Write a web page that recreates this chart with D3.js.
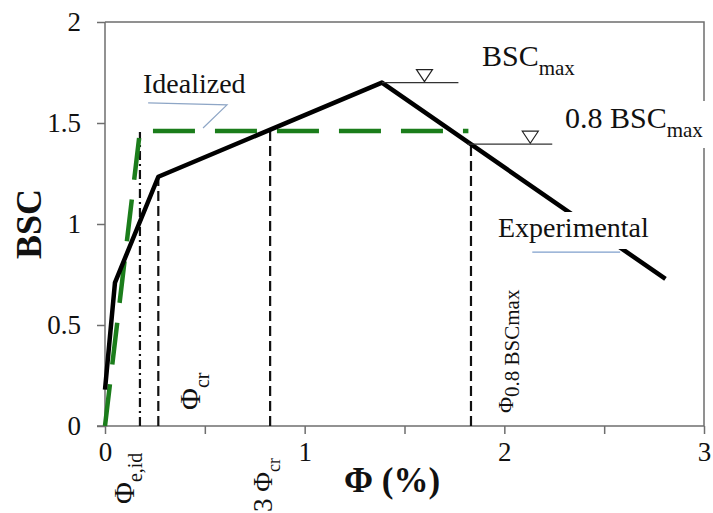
<!DOCTYPE html>
<html>
<head>
<meta charset="utf-8">
<script src="https://cdn.jsdelivr.net/npm/d3@7"></script>
<style>
  html, body { margin: 0; padding: 0; background: #fff; }
  svg { display: block; font-family: "Liberation Serif", "Times New Roman", serif; }
</style>
</head>
<body>
<svg id="chart" width="713" height="513"></svg>
<script>
// Experimental BSC–rotation curve
const expPhi = [0, 0.05, 0.267, 1.387, 2.807];
const expBsc = [0.18, 0.71, 1.234, 1.70, 0.728];

// Idealized bilinear curve
const idPhi = [0, 0.175, 1.82];
const idBsc = [0, 1.46, 1.46];

// Characteristic rotations and strength levels
const phiEid = 0.175;
const phiCr = 0.267;
const phi3Cr = 0.827;
const phi08 = 1.833;
const bscMax = 1.70;
const bsc08 = 1.395;
const bscYield = 1.46;

// Axis ticks
const xTicks = [0, 0.5, 1, 1.5, 2, 2.5, 3];
const xTickLabels = ["0", "", "1", "", "2", "", "3"];
const yTicks = [0, 0.5, 1, 1.5, 2];
const yTickLabels = ["0", "0.5", "1", "1.5", "2"];

const W = 713, H = 513;
const margin = { top: 22, right: 9, bottom: 87, left: 105 };

const svg = d3.select("#chart");
const x = d3.scaleLinear().domain([0, 3]).range([margin.left, W - margin.right]);
const y = d3.scaleLinear().domain([0, 2]).range([H - margin.bottom, margin.top]);

const frameColor = "#6e6e6e";

// Plot frame (top and right sides)
svg.append("path")
  .attr("d", `M${x(0)},${y(2)}H${x(3)}V${y(0)}`)
  .attr("fill", "none").attr("stroke", frameColor).attr("stroke-width", 1.5);

// Axes
const xAxis = d3.axisBottom(x).tickValues(xTicks)
  .tickFormat((d, i) => xTickLabels[i]).tickSize(8).tickPadding(8);
const gx = svg.append("g").attr("transform", `translate(0,${y(0)})`).call(xAxis);
gx.select(".domain").attr("stroke", frameColor).attr("stroke-width", 1.5)
  .attr("d", `M${x(0) - 8},0H${x(3)}`);
gx.selectAll(".tick line").attr("stroke", frameColor).attr("stroke-width", 1.5);
gx.selectAll(".tick text").attr("font-family", "Liberation Serif").attr("font-size", 27).attr("fill", "#111");

const yAxis = d3.axisLeft(y).tickValues(yTicks)
  .tickFormat((d, i) => yTickLabels[i]).tickSize(8).tickPadding(16);
const gy = svg.append("g").attr("transform", `translate(${x(0)},0)`).call(yAxis);
gy.select(".domain").attr("stroke", frameColor).attr("stroke-width", 1.5)
  .attr("d", `M0,${y(0)}V${y(2)}`);
gy.selectAll(".tick line").attr("stroke", frameColor).attr("stroke-width", 1.5);
gy.selectAll(".tick text").attr("font-family", "Liberation Serif").attr("font-size", 27).attr("fill", "#111");

// Axis titles
svg.append("text")
  .attr("transform", `translate(41,${(y(0) + y(2)) / 2}) rotate(-90)`)
  .attr("text-anchor", "middle").attr("font-weight", "bold").attr("font-size", 36)
  .attr("fill", "#111").text("BSC");
svg.append("text")
  .attr("x", 392).attr("y", 492)
  .attr("text-anchor", "middle").attr("font-weight", "bold").attr("font-size", 35)
  .attr("fill", "#111").text("Φ (%)");

// Vertical reference lines
const vlines = [
  { phi: phiEid, top: bscYield, dash: "9,4,2,4" },
  { phi: phiCr, top: expBsc[2], dash: "10,5" },
  { phi: phi3Cr, top: bscYield, dash: "10,5" },
  { phi: phi08, top: bsc08, dash: "10,5" }
];
svg.append("g").selectAll("line").data(vlines).join("line")
  .attr("x1", d => x(d.phi)).attr("x2", d => x(d.phi))
  .attr("y1", y(0)).attr("y2", d => y(d.top))
  .attr("stroke", "#111").attr("stroke-width", 2.2)
  .attr("stroke-dasharray", d => d.dash);

const line = d3.line().x(d => x(d[0])).y(d => y(d[1]));

// Idealized curve
svg.append("path")
  .datum(idPhi.map((p, i) => [p, idBsc[i]]))
  .attr("d", line)
  .attr("fill", "none").attr("stroke", "#1b7d1b").attr("stroke-width", 4.5)
  .attr("stroke-dasharray", "42,20");

// Experimental curve
svg.append("path")
  .datum(expPhi.map((p, i) => [p, expBsc[i]]))
  .attr("d", line)
  .attr("fill", "none").attr("stroke", "#000").attr("stroke-width", 4.5)
  .attr("stroke-linejoin", "round");

// Level markers (horizontal line with hollow triangle)
function levelMark(p0, p1, level, triPhi) {
  svg.append("line")
    .attr("x1", x(p0)).attr("x2", x(p1)).attr("y1", y(level)).attr("y2", y(level))
    .attr("stroke", "#333").attr("stroke-width", 1.2);
  const cx = x(triPhi), cy = y(level) - 1;
  svg.append("path")
    .attr("d", `M${cx - 8},${cy - 12}H${cx + 8}L${cx},${cy}Z`)
    .attr("fill", "#fff").attr("stroke", "#222").attr("stroke-width", 1.2);
}
levelMark(expPhi[3], 1.77, bscMax, 1.60);
levelMark(1.815, 2.24, bsc08, 2.13);

// Annotation labels
function label(tx, ty, main, sub, size, subSize, bg) {
  const g = svg.append("g");
  const t = g.append("text").attr("x", tx).attr("y", ty)
    .attr("font-size", size).attr("fill", "#111");
  t.append("tspan").text(main);
  if (sub) t.append("tspan").attr("font-size", subSize).attr("dy", size * 0.3).text(sub);
  if (bg) {
    const b = t.node().getBBox();
    g.insert("rect", "text")
      .attr("x", b.x - 4).attr("y", b.y).attr("width", b.width + 8).attr("height", b.height + 6)
      .attr("fill", "#fff");
  }
  return g;
}
label(482, 66, "BSC", "max", 30, 21, false);
label(565, 128, "0.8 BSC", "max", 30, 21, true);

// Experimental label and leader
label(498, 237, "Experimental", null, 28, 0, true);
svg.append("line")
  .attr("x1", x(2.14)).attr("x2", x(2.58)).attr("y1", y(0.861)).attr("y2", y(0.861))
  .attr("stroke", "#7f9fcc").attr("stroke-width", 1.2);

// Idealized label and leader
label(143, 93, "Idealized", null, 28, 0, false);
svg.append("path")
  .datum([[0.216, 1.60], [0.611, 1.59], [0.491, 1.475]])
  .attr("d", line)
  .attr("fill", "none").attr("stroke", "#8ea6c6").attr("stroke-width", 1.2);

// Rotated rotation labels
function rotLabel(ax, ay, pre, sub, size, subSize) {
  const t = svg.append("text")
    .attr("transform", `translate(${ax},${ay}) rotate(-90)`)
    .attr("font-size", size).attr("fill", "#111");
  t.append("tspan").text(pre);
  t.append("tspan").attr("font-size", subSize).attr("dy", size * 0.28).text(sub);
}
rotLabel(x(phiEid) - 6, 504, "Φ", "e,id", 30, 20);
rotLabel(x(phiCr) + 42, 410, "Φ", "cr", 30, 20);
rotLabel(x(phi3Cr) + 2, 512, "3 Φ", "cr", 27, 18);
rotLabel(x(phi08) + 42, 413, "Φ", "0.8 BSCmax", 22, 21);
</script>
</body>
</html>
